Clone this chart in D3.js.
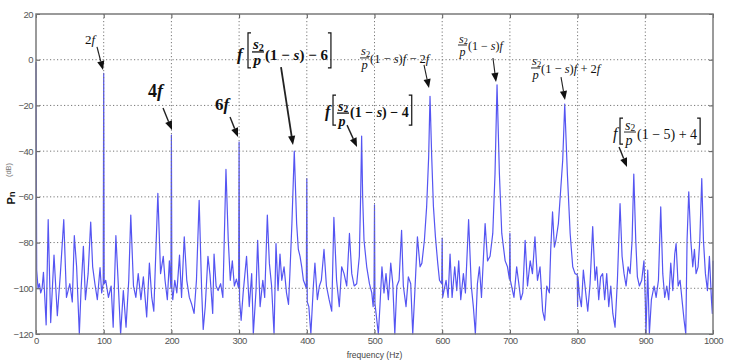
<!DOCTYPE html>
<html>
<head>
<meta charset="utf-8">
<script src="https://cdn.jsdelivr.net/npm/d3@7"></script>
<style>
body { margin: 0; background: #fff; }
svg { display: block; }
.tick text { font-family: "Liberation Sans", Arial, sans-serif; font-size: 9.5px; fill: #555; letter-spacing: -0.5px; }
.tick line { stroke: #555; }
</style>
</head>
<body>
<svg width="745" height="363"></svg>
<script>
// spectrum: [frequency Hz, power dB]
var spectrum = [
  [0,-1],[1,-92],[2,-96],[3,-100],[5,-98],[7,-102],[9,-100],[11,-93],[13,-104],[15,-116],
  [18,-70],[21.7,-115],[26.6,-85.5],[31.5,-112],[36,-93.6],[41,-70],[45,-104],[50,-98],[53.6,-106],[56.6,-77],
  [60,-90.6],[64,-120],[66.5,-101],[70,-81.6],[73,-105],[77,-93.6],[80.8,-71],[83.7,-90.6],[87,-98],[90.6,-105],
  [94.6,-91],[97,-102],[99.3,-98],[100,-6],[100.7,-98],[103,-96.5],[107,-104],[111,-99],[114,-117],[118,-77],
  [121,-95],[125,-120],[129,-101],[133,-117],[137,-96.5],[140,-68],[144,-99],[147.5,-104],[151,-93.6],[155,-105],
  [158.6,-95],[163.5,-112.5],[167.5,-89],[171,-104],[174,-110],[180,-58.5],[184,-93.6],[188,-86],[190.6,-96.5],[194,-105],
  [197,-88],[199.3,-100],[200,-33],[200.7,-100],[202,-105],[205,-96.5],[208,-102],[212,-85.5],[215,-104],[219,-77.5],
  [222.7,-96.5],[226.5,-104],[230,-107],[233.5,-111],[237,-96.5],[241,-61.5],[244.7,-101],[247,-118],[250,-108],[254,-86],
  [257,-94],[261,-111],[263,-85],[266,-99],[269,-101],[272.7,-98],[276,-104],[280.6,-48],[284,-79],[287,-96.5],
  [290,-88],[293,-99],[296,-96],[299.3,-100],[300,-36],[300.7,-105],[303,-114],[306,-102],[311,-86],[315,-108],
  [318.6,-93.6],[321,-120],[325,-101],[327.4,-79],[331,-108],[335,-96.5],[337.8,-104],[341.7,-68],[344.7,-89],[348,-99],
  [351.6,-120],[354.5,-80.4],[357.5,-101],[360.4,-85],[363,-96.5],[366.4,-90.6],[370,-102],[373,-107],[375,-93.6],[378,-71.7],
  [381.5,-40],[385,-71.7],[387.5,-83],[390,-86],[392.5,-90.6],[395,-96.5],[397,-98],[399.3,-100],[400,-52],[400.7,-106],
  [403,-108],[406,-120],[409.7,-99],[412,-89],[415.6,-105],[418.6,-99],[421.5,-96.5],[425.4,-83],[429,-99],[433,-105],
  [436.8,-110],[440,-69],[444,-96.5],[448,-108],[451.5,-90.6],[455,-93.6],[459,-99],[463,-76],[466.4,-93.6],[470,-99],
  [473.7,-98],[477.6,-86],[479.5,-60],[481,-33.4],[482.5,-60],[484.5,-79],[488.5,-90.6],[492.5,-98],[496,-102],[498,-108],
  [499.3,-100],[500,-63.5],[500.7,-106.7],[505.7,-120],[508,-108],[511,-90.6],[514,-102],[517,-93.6],[520.5,-105],[524,-89],
  [527,-98],[530,-120],[533,-99],[536.3,-96.5],[540,-74.6],[542.6,-99],[546.6,-108],[550,-95],[553.5,-98],[556.5,-120],
  [560,-99],[563.4,-77.5],[567.3,-90.6],[570,-89],[573.7,-79],[577,-64.4],[580,-42.5],[582,-16],[584.5,-42.5],[587,-64],
  [590,-77.5],[593.4,-89],[596,-96.5],[599.3,-98],[600,-78],[600.7,-104],[605.7,-96.5],[608.7,-104],[611.6,-85],[614.6,-104],
  [618.5,-90.6],[621.5,-101],[624.4,-88],[627.4,-105],[631.3,-93.6],[634.3,-102],[639,-70],[643,-99],[646,-108],[649,-120],
  [652,-98],[655,-90.6],[658,-104],[661,-86],[663.4,-71.7],[667,-88],[670.7,-86],[674.7,-76],[678,-50],[681,-11],
  [684.5,-50],[688,-76],[693,-88],[696.4,-90.6],[699.3,-96],[700,-76],[700.7,-96.5],[706,-104],[710,-90.6],[713.6,-99],
  [716,-105],[719,-102],[722.5,-79],[726,-99],[730,-88],[733.3,-93.6],[737,-77.5],[740.7,-96.5],[744.5,-90.6],[748.4,-110],
  [751.4,-114],[754.4,-99],[758.3,-102],[760.3,-83],[763,-66.6],[765.7,-82],[768,-79],[771.6,-71.7],[775,-57],[778,-44],
  [781,-19.4],[784.9,-50],[789,-76],[792.8,-90.6],[796.2,-93.6],[799.5,-94],[800,-108],[800.5,-95],[802.6,-103],[805.6,-108],
  [808.5,-92],[812,-102],[815,-110],[818.4,-98],[822.3,-73],[825.8,-96.5],[828.2,-90.6],[831.2,-105],[834,-95],[837,-93.6],
  [840,-105],[843,-93.6],[846,-108],[849,-99],[852,-111],[855.3,-117],[858.8,-96.5],[862.7,-63],[865.7,-86],[868.6,-93.6],
  [871.6,-99],[874.6,-90.6],[877.5,-93.6],[880.5,-79],[883,-50],[885.9,-79],[888.3,-95],[891.3,-99],[894.7,-96.5],[898,-88],
  [900,-105],[901,-120],[903.6,-92],[906,-120],[909,-105],[913,-99],[916,-104],[919.4,-96.5],[922.8,-64.4],[925.8,-93.6],
  [928.7,-104],[931.7,-99],[934.6,-105],[937.6,-89],[940.6,-101],[943.5,-85],[945.5,-80.4],[948.5,-99],[951.4,-96.5],[954.8,-106.7],
  [957.3,-114],[959.8,-120],[961.7,-79],[964.2,-57.8],[967.2,-79],[970.1,-90.6],[972.6,-83],[975,-93.6],[978,-90.6],[980.5,-79],
  [983.4,-52],[985.9,-79],[988.8,-93.6],[991.8,-101],[994.7,-86],[997.7,-105],[999,-111],[1000,-88]
];

var xTicks = [0,100,200,300,400,500,600,700,800,900,1000];
var yTicks = [20,0,-20,-40,-60,-80,-100,-120];

// annotation arrows: [tail Hz, tail dB, tip Hz, tip dB, stroke]
var arrows = [
  [90.1,5.6,99,-4.5,1.2],
  [187.6,-21.1,200.9,-30.75,1.4],
  [286.6,-25.1,298.4,-33.8,1.4],
  [361.9,-3.2,379.6,-37.3,1.8],
  [573.1,-2.3,580.5,-12.4,1.1],
  [459.4,-28.6,474.2,-38.2,1.4],
  [675,0.75,679.5,-9.75,1.1],
  [775.5,-7.6,781.4,-17.6,1.1],
  [861.2,-38.2,873,-46.9,1.4]
];

var svg = d3.select("svg");
var mLeft = 36, mRight = 713, mTop = 14, mBottom = 334;

var x = d3.scaleLinear().domain([0,1000]).range([mLeft,mRight]);
var y = d3.scaleLinear().domain([-120,20]).range([mBottom,mTop]);

svg.append("rect").attr("width",745).attr("height",363).attr("fill","#fff");

// trace
var line = d3.line().x(function(d){return x(d[0]);}).y(function(d){return y(d[1]);});
svg.append("path")
  .datum(spectrum)
  .attr("d", line)
  .attr("fill","none")
  .attr("stroke","#5555f2")
  .attr("stroke-width",1.2)
  .attr("stroke-linejoin","round");

// dotted grid
var grid = svg.append("g").attr("stroke","#777").attr("stroke-width",1).attr("stroke-dasharray","1.2,2.3");
grid.selectAll(".gx").data(xTicks.slice(1,-1)).enter().append("line")
  .attr("x1",function(d){return x(d);}).attr("x2",function(d){return x(d);})
  .attr("y1",mTop).attr("y2",mBottom);
grid.selectAll(".gy").data(yTicks.slice(1,-1)).enter().append("line")
  .attr("y1",function(d){return y(d);}).attr("y2",function(d){return y(d);})
  .attr("x1",mLeft).attr("x2",mRight);

// axes, ticks pointing in
svg.append("g").attr("transform","translate("+mLeft+",0)")
  .call(d3.axisLeft(y).tickValues(yTicks).tickSize(-4).tickPadding(3).tickFormat(d3.format("d")))
  .call(function(g){ g.select(".domain").remove(); });
svg.append("g").attr("transform","translate(0,"+mBottom+")")
  .call(d3.axisBottom(x).tickValues(xTicks).tickSize(-4).tickPadding(3).tickFormat(d3.format("d")))
  .call(function(g){ g.select(".domain").remove(); });
svg.append("g").attr("transform","translate("+mRight+",0)")
  .call(d3.axisRight(y).tickValues(yTicks).tickSize(-4).tickFormat(""))
  .call(function(g){ g.select(".domain").remove(); });
svg.append("g").attr("transform","translate(0,"+mTop+")")
  .call(d3.axisTop(x).tickValues(xTicks).tickSize(-4).tickFormat(""))
  .call(function(g){ g.select(".domain").remove(); });

svg.append("rect")
  .attr("x",mLeft).attr("y",mTop).attr("width",mRight-mLeft).attr("height",mBottom-mTop)
  .attr("fill","none").attr("stroke","#7a7a7a").attr("stroke-width",1.5);

// axis titles
svg.append("text")
  .attr("x",(mLeft+mRight)/2).attr("y",358)
  .attr("text-anchor","middle")
  .attr("font-family","Liberation Sans, Arial, sans-serif")
  .attr("font-size",8.5).attr("fill","#444")
  .text("frequency (Hz)");
svg.append("text")
  .attr("transform","translate(11,170) rotate(-90)")
  .attr("text-anchor","middle")
  .attr("font-family","Liberation Sans, Arial, sans-serif")
  .attr("font-size",7.5).attr("fill","#777")
  .text("(dB)");
var pn = svg.append("text")
  .attr("transform","translate(15,198) rotate(-90)")
  .attr("text-anchor","middle")
  .attr("font-family","Liberation Sans, Arial, sans-serif")
  .attr("font-weight","bold").attr("fill","#111");
pn.append("tspan").attr("font-size",11).text("P");
pn.append("tspan").attr("font-size",9).text("n");

// annotation helpers
var serif = "Liberation Serif, Times New Roman, serif";
var notes = svg.append("g");

function words(px, py, parts, size, weight) {
  var t = notes.append("text").attr("x",px).attr("y",py)
    .attr("font-family",serif).attr("font-size",size)
    .attr("font-weight",weight || "normal").attr("fill","#111");
  parts.forEach(function(p){
    t.append("tspan").attr("font-style", p[1] ? "italic" : "normal").text(p[0]);
  });
  return t;
}
function fraction(px, bar, size, weight, w) {
  var s = words(px+1, bar-2.5, [["s",1]], size, weight);
  s.append("tspan").attr("font-size",size*0.68).attr("dy",size*0.12).text("2");
  words(px+1.5, bar+size*0.9, [["p",1]], size, weight);
  notes.append("line").attr("x1",px).attr("x2",px+w).attr("y1",bar).attr("y2",bar)
    .attr("stroke","#111").attr("stroke-width",weight==="bold"?1.3:0.9);
}
function bracket(px, y1, y2, dir) {
  notes.append("path")
    .attr("d","M"+(px+3*dir)+","+y1+"H"+px+"V"+y2+"H"+(px+3*dir))
    .attr("fill","none").attr("stroke","#111").attr("stroke-width",1.2);
}
function bracketNote(f, db, o) {
  var ox = x(f), oy = y(db);
  words(ox, oy, [["f",1]], o.size+2, o.weight);
  bracket(ox+o.bl, oy+o.top, oy+o.bot, 1);
  fraction(ox+o.bl+4, oy+o.bar, o.size, o.weight, 12);
  var t = words(ox+o.bl+17, oy, o.inner, o.size, o.weight);
  var w = t.node().getComputedTextLength();
  bracket(ox+o.bl+17+w+3, oy+o.top, oy+o.bot, -1);
}
function fracNote(f, db, tail, size) {
  var ox = x(f), oy = y(db);
  fraction(ox, oy-5, size, "normal", 9);
  words(ox+10, oy, tail, size, "normal");
}

words(x(72.4), y(6.9), [["2"],["f",1]], 13);
words(x(165.4), y(-16.3), [["4"],["f",1]], 18, "bold");
words(x(264.4), y(-22), [["6"],["f",1]], 17, "bold");

bracketNote(296.9, -0.1, {size:15, weight:"bold", bl:11, top:-27, bot:8, bar:-8,
  inner:[["(1 − "],["s",1],[") − 6"]]});
bracketNote(426.9, -25.1, {size:14, weight:"bold", bl:8, top:-22, bot:8, bar:-4,
  inner:[["(1 − "],["s",1],[") − 4"]]});
bracketNote(852.3, -34.7, {size:14, weight:"normal", bl:7, top:-21, bot:5, bar:-7,
  inner:[["(1 − 5) + 4"]]});

fracNote(478.6, -1.4, [["(1 − "],["s",1],[")"],["f",1],[" − 2"],["f",1]], 12.5);
fracNote(623.3, 4.25, [["(1 − "],["s",1],[")"],["f",1]], 12);
fracNote(731.2, -5.8, [["(1 − "],["s",1],[")"],["f",1],[" + 2"],["f",1]], 12.5);

// arrows
arrows.forEach(function(a){
  var x1 = x(a[0]), y1 = y(a[1]), x2 = x(a[2]), y2 = y(a[3]);
  var ang = Math.atan2(y2-y1, x2-x1), L = 9, H = 3.6;
  var bx = x2 - L*Math.cos(ang), by = y2 - L*Math.sin(ang);
  notes.append("line").attr("x1",x1).attr("y1",y1).attr("x2",bx).attr("y2",by)
    .attr("stroke","#222").attr("stroke-width",a[4]);
  notes.append("path")
    .attr("d","M"+x2+","+y2+"L"+(bx - H*Math.sin(ang))+","+(by + H*Math.cos(ang))+
      "L"+(bx + H*Math.sin(ang))+","+(by - H*Math.cos(ang))+"Z")
    .attr("fill","#111");
});
</script>
</body>
</html>
